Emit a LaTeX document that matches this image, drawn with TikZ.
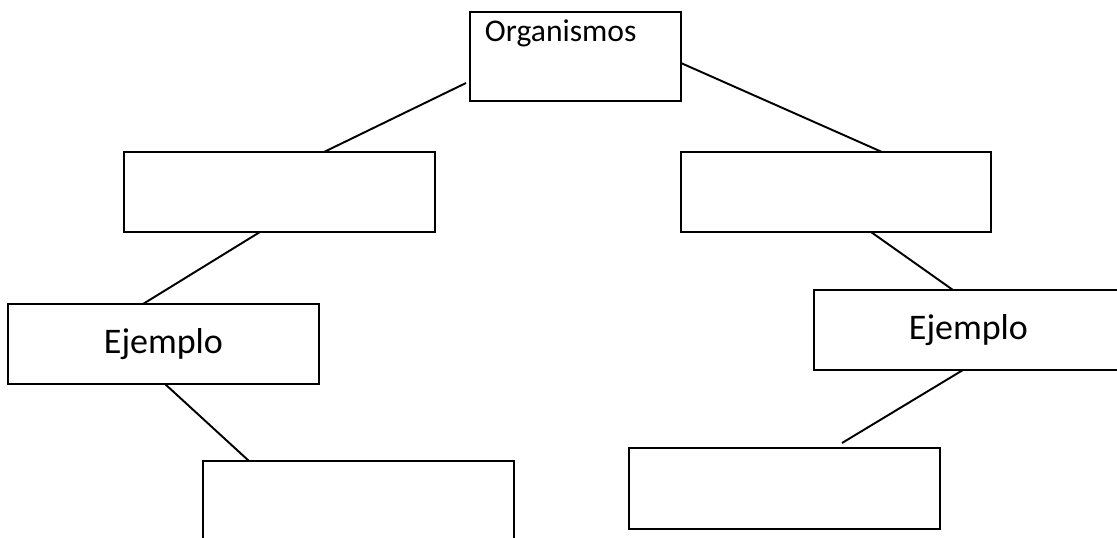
\documentclass[tikz,border=0pt]{standalone}
\usepackage{fontspec}
\setmainfont{Carlito}
\usetikzlibrary{calc}

\begin{document}
\begin{tikzpicture}[x=0.02cm,y=-0.02cm,
  caja/.style={draw=black,line width=1.1pt,rectangle,inner sep=0pt,outer sep=0pt,
    minimum width=6.22cm,minimum height=1.6cm,anchor=north west},
  ejemplo/.style={caja,font=\fontsize{20.5}{24}\selectfont},
  rama/.style={line width=1.1pt,color=black}]
\useasboundingbox (0,0) rectangle (1117,538);
\clip (0,0) rectangle (1117,538);

% caja principal
\node[caja,minimum width=4.22cm,minimum height=1.78cm,inner xsep=0.3cm,
  text width=3.62cm,align=left,text height=0.6cm,text depth=1.18cm,
  font=\fontsize{18}{21}\selectfont] (org) at (470,12) {Organismos};

% segundo nivel
\node[caja] (izq) at (124,152) {};
\node[caja,minimum width=6.2cm] (der) at (681,152) {};

% ejemplos
\node[ejemplo] (ejizq) at (8,304) {Ejemplo};
\node[ejemplo,minimum width=6.18cm] (ejder) at (814,290) {Ejemplo};

% ultimo nivel
\node[caja,minimum height=2cm] (abizq) at (203,461) {};
\node[caja,minimum height=1.62cm] (abder) at (629,448) {};

% ramas
\draw[rama] ([shift={(-4,71)}]org.north west) -- ([shift={(200,0)}]izq.north west);
\draw[rama] ([shift={(0,51)}]org.north east) -- ([shift={(201,0)}]der.north west);
\draw[rama] ([shift={(136,0)}]izq.south west) -- ([shift={(135,0)}]ejizq.north west);
\draw[rama] ([shift={(190,0)}]der.south west) -- ([shift={(139,0)}]ejder.north west);
\draw[rama] ([shift={(157,0)}]ejizq.south west) -- ([shift={(46,0)}]abizq.north west);
\coordinate (fin) at ([shift={(213,-5)}]abder.north west);
\draw[rama] ([shift={(149,0)}]ejder.south west) -- (fin);

\end{tikzpicture}
\end{document}
